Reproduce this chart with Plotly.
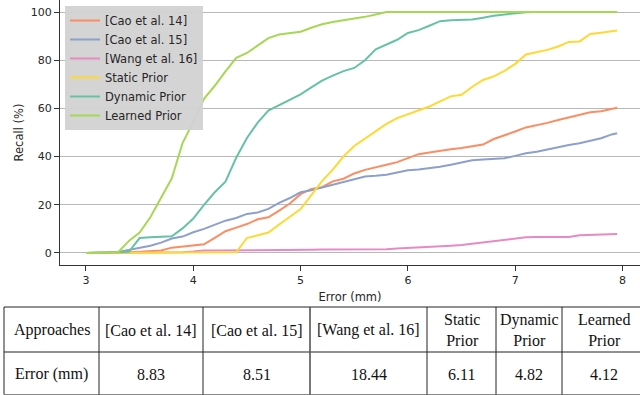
import plotly.graph_objects as go

# ---------------- data ----------------
error_mm = [3.0, 3.1, 3.2, 3.3, 3.4, 3.5, 3.6, 3.7, 3.8, 3.9,
            4.0, 4.1, 4.2, 4.3, 4.4, 4.5, 4.6, 4.7, 4.8, 4.9,
            5.0, 5.1, 5.2, 5.3, 5.4, 5.5, 5.6, 5.7, 5.8, 5.9,
            6.0, 6.1, 6.2, 6.3, 6.4, 6.5, 6.6, 6.7, 6.8, 6.9,
            7.0, 7.1, 7.2, 7.3, 7.4, 7.5, 7.6, 7.7, 7.8, 7.9, 7.95]

cao14 = [0, 0, 0.1, 0.2, 0.3, 0.5, 0.7, 1.0, 2.2, 2.7,
         3.0, 3.6, 6.3, 9.0, 10.5, 12.0, 14.0, 14.8, 17.6, 20.5,
         24.4, 26.6, 27.3, 29.7, 30.8, 33.0, 34.5, 35.7, 36.6, 37.7,
         39.2, 41.0, 41.7, 42.2, 43.0, 43.6, 44.2, 45.0, 47.3, 48.7,
         50.4, 52.1, 53.0, 54.0, 55.2, 56.3, 57.6, 58.4, 58.8, 59.6, 60.3]

cao15 = [0, 0, 0.2, 0.4, 1.3, 2.0, 3.0, 4.3, 6.0, 6.8,
         8.6, 10.0, 11.8, 13.4, 14.5, 16.2, 16.8, 18.3, 20.8, 22.8,
         25.2, 26.0, 27.2, 28.4, 29.6, 30.5, 31.7, 32.0, 32.5, 33.4,
         34.3, 34.6, 35.1, 35.8, 36.6, 37.4, 38.5, 38.8, 39.0, 39.3,
         40.3, 41.4, 42.0, 43.0, 43.8, 44.8, 45.5, 46.5, 47.6, 49.2, 49.7]

wang16 = [0, 0, 0, 0, 0, 0, 0, 0, 0, 0.3,
          0.6, 1.0, 1.0, 1.0, 1.0, 1.0, 1.0, 1.1, 1.3, 1.3,
          1.3, 1.3, 1.4, 1.4, 1.4, 1.4, 1.4, 1.4, 1.5, 1.8,
          2.0, 2.1, 2.3, 2.6, 3.0, 3.3, 3.8, 4.3, 4.8, 5.2,
          5.8, 6.5, 6.6, 6.6, 6.6, 6.6, 7.3, 7.5, 7.7, 7.8, 7.9]

static_prior = [0, 0, 0, 0, 0, 0, 0, 0, 0, 0,
                0, 0, 0, 0, 0.3, 6.2, 7.2, 8.5, 11.8, 15.0,
                18.2, 24.0, 29.8, 34.6, 40.1, 44.4, 47.4, 50.3, 53.6, 56.0,
                57.6, 59.3, 60.8, 62.9, 65.0, 65.7, 69.0, 71.8, 73.3, 75.6,
                78.5, 82.4, 83.2, 84.3, 85.7, 87.6, 87.8, 90.9, 91.4, 92.0, 92.3]

dynamic_prior = [0, 0, 0.2, 0.3, 0.5, 6.2, 6.5, 6.8, 6.9, 10.2,
                 14.3, 20.0, 25.2, 29.6, 39.5, 47.7, 54.1, 59.1, 61.3, 63.6,
                 65.8, 68.7, 71.5, 73.6, 75.5, 76.8, 80.0, 84.5, 86.4, 88.5,
                 91.3, 92.5, 94.3, 96.2, 96.6, 96.6, 96.9, 97.6, 98.5, 99.0,
                 99.5, 99.9, 100, 100, 100, 100, 100, 100, 100, 100, 100]

learned_prior = [0, 0, 0, 0.3, 5.0, 8.5, 14.8, 23.0, 31.0, 45.6,
                 54.4, 64.0, 69.4, 75.4, 81.0, 83.0, 86.0, 89.2, 90.7, 91.3,
                 91.8, 93.5, 94.9, 95.9, 96.6, 97.2, 98.0, 99.0, 100, 100,
                 100, 100, 100, 100, 100, 100, 100, 100, 100, 100,
                 100, 100, 100, 100, 100, 100, 100, 100, 100, 100, 100]

series_names = ["[Cao et al. 14]", "[Cao et al. 15]", "[Wang et al. 16]",
                "Static Prior", "Dynamic Prior", "Learned Prior"]
series_values = [cao14, cao15, wang16, static_prior, dynamic_prior, learned_prior]
series_colors = ["#fc8d62", "#8da0cb", "#e78ac3", "#ffd92f", "#66c2a5", "#a6d854"]

y_ticks = [0, 20, 40, 60, 80, 100]
x_ticks = [3, 4, 5, 6, 7, 8]

table_header = ["Approaches", "[Cao et al. 14]", "[Cao et al. 15]", "[Wang et al. 16]",
                "Static<br>Prior", "Dynamic<br>Prior", "Learned<br>Prior"]
table_row = ["Error (mm)", "8.83", "8.51", "18.44", "6.11", "4.82", "4.12"]

# ---------------- layout constants ----------------
W, H = 640, 395
col_edges = [4, 99, 203, 310, 427, 496, 562, 645]   # px
row_edges = [307, 352, 394.5]                        # px

def px(xp):
    return xp / W

def py(yp):
    return 1 - yp / H

fig = go.Figure()
for name, vals, col in zip(series_names, series_values, series_colors):
    fig.add_trace(go.Scatter(x=error_mm, y=vals, mode="lines", name=name,
                             line=dict(color=col, width=2)))

shapes = []
# horizontal table lines
for i, ye in enumerate(row_edges):
    shapes.append(dict(type="line", xref="paper", yref="paper",
                       x0=px(col_edges[0]), x1=1.0, y0=py(ye), y1=py(ye),
                       line=dict(color="#222222" if i < 2 else "#888888", width=1)))
# vertical table lines
for i, xe in enumerate(col_edges[:-1]):
    shapes.append(dict(type="line", xref="paper", yref="paper",
                       x0=px(xe), x1=px(xe), y0=py(row_edges[0]), y1=py(row_edges[-1]),
                       line=dict(color="#555555" if i == 3 else "#222222",
                                 width=1.6 if i == 3 else 1)))

annotations = []
tfont = dict(family="Liberation Serif, Times New Roman, serif", size=16, color="#111111")
for i in range(len(table_header)):
    cx = (col_edges[i] + col_edges[i + 1]) / 2
    annotations.append(dict(xref="paper", yref="paper", x=px(cx), y=py(330),
                            text=table_header[i], showarrow=False, font=tfont,
                            xanchor="center", yanchor="middle", align="center"))
    annotations.append(dict(xref="paper", yref="paper", x=px(cx), y=py(374),
                            text=table_row[i], showarrow=False, font=tfont,
                            xanchor="center", yanchor="middle", align="center"))

pfont = "DejaVu Sans, sans-serif"
fig.update_layout(
    width=W, height=H,
    margin=dict(l=0, r=0, t=0, b=0),
    paper_bgcolor="white", plot_bgcolor="white",
    font=dict(family=pfont, size=11, color="#262626"),
    xaxis=dict(domain=[60 / W, 1], range=[2.758, 8.163], tickvals=x_ticks,
               showgrid=False, zeroline=False, showline=True, linecolor="#333333",
               linewidth=1, ticks="outside", ticklen=5, tickcolor="#333333",
               tickfont=dict(size=11, family=pfont, color="#262626"),
               title=dict(text="Error (mm)", font=dict(size=11.5, family=pfont, color="#262626"),
                          standoff=6)),
    yaxis=dict(domain=[1 - 265 / H, 1], range=[-5, 105], tickvals=y_ticks,
               showgrid=True, gridcolor="#b8b8b8", gridwidth=1.2, zeroline=False,
               showline=True, linecolor="#333333", linewidth=1,
               ticks="outside", ticklen=5, tickcolor="#333333",
               tickfont=dict(size=11, family=pfont, color="#262626"),
               title=dict(text="Recall (%)", font=dict(size=11.5, family=pfont, color="#262626"),
                          standoff=4)),
    legend=dict(x=65 / W, y=1 - 6 / H, xanchor="left", yanchor="top",
                bgcolor="rgba(210,210,210,0.95)", borderwidth=0,
                font=dict(size=11.5, family=pfont, color="#262626"),
                itemwidth=30, tracegroupgap=0),
    shapes=shapes,
    annotations=annotations,
    showlegend=True,
)

fig.write_html("out.html",
               config={"displayModeBar": False},
               post_script="document.body.style.margin='0';document.body.style.padding='0';")
